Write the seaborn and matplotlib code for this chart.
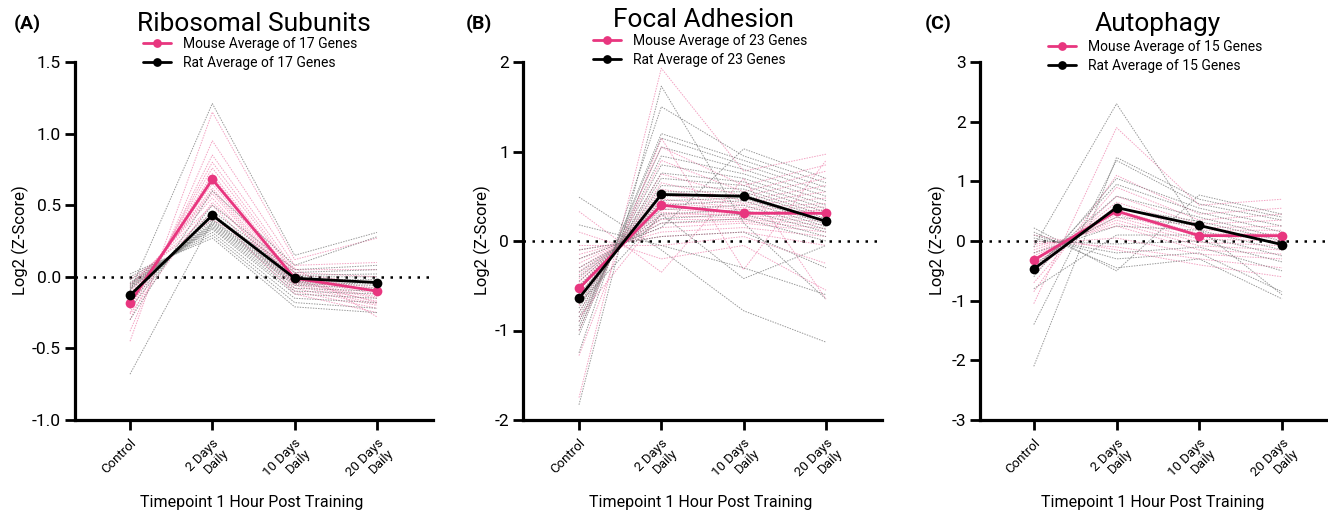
import numpy as np
import pandas as pd
import matplotlib
matplotlib.use("Agg")
import matplotlib.pyplot as plt
import seaborn as sns

sns.set_style("ticks")
plt.rcParams['font.family'] = ['Roboto', 'DejaVu Sans']
plt.rcParams.update({
    "text.color": "black", "axes.labelcolor": "black", "xtick.color": "black",
    "ytick.color": "black", "axes.edgecolor": "black",
})

timepoints = ["Control", "2 Days\nDaily", "10 Days\nDaily", "20 Days\nDaily"]

# ---------------- Panel A: Ribosomal Subunits (17 genes) ----------------
a_mouse_ctrl = [-0.45, -0.38, -0.30, -0.25, -0.22, -0.20, -0.18, -0.16, -0.15, -0.14, -0.12, -0.10, -0.08, -0.06, -0.05, -0.02, -0.26]
a_mouse_d2 = [1.15, 0.95, 0.85, 0.80, 0.76, 0.72, 0.70, 0.68, 0.65, 0.62, 0.60, 0.58, 0.55, 0.50, 0.45, 0.40, 0.52]
a_mouse_d10 = [0.12, 0.08, 0.05, 0.03, 0.02, 0.00, -0.01, -0.02, -0.03, -0.04, -0.05, -0.06, -0.08, -0.10, -0.12, 0.06, -0.02]
a_mouse_d20 = [0.27, 0.10, 0.05, 0.00, -0.05, -0.08, -0.10, -0.12, -0.14, -0.15, -0.17, -0.19, -0.20, -0.22, -0.25, -0.28, -0.18]
a_rat_ctrl = [-0.10, -0.30, -0.22, -0.18, -0.15, -0.13, -0.12, -0.68, -0.09, -0.08, -0.07, -0.06, -0.05, -0.04, -0.02, 0.00, 0.02]
a_rat_d2 = [1.21, 0.60, 0.50, 0.46, 0.44, 0.42, 0.40, 0.39, 0.38, 0.37, 0.36, 0.35, 0.34, 0.33, 0.31, 0.29, 0.27]
a_rat_d10 = [0.15, 0.08, 0.05, 0.03, 0.01, 0.00, -0.02, -0.03, -0.04, -0.05, -0.06, -0.08, -0.10, -0.12, -0.15, -0.18, -0.21]
a_rat_d20 = [0.31, 0.28, 0.08, 0.05, 0.02, 0.00, -0.02, -0.04, -0.05, -0.06, -0.08, -0.10, -0.12, -0.15, -0.18, -0.22, -0.25]
a_mouse_avg = [-0.18, 0.68, -0.01, -0.10]
a_rat_avg = [-0.13, 0.43, -0.01, -0.04]

# ---------------- Panel B: Focal Adhesion (23 genes) ----------------
b_mouse_ctrl = [-1.75, -1.28, -1.00, -0.90, -0.80, -0.72, -0.66, -0.60, -0.55, -0.50, -0.46, -0.42, -0.38, -0.34, -0.30, -0.25, -0.20, -0.15, -0.10, -0.05, 0.10, 0.33, -0.85]
b_mouse_d2 = [1.93, 1.15, 1.05, 0.90, 0.75, 0.65, 0.58, 0.52, 0.47, 0.43, 0.40, 0.36, 0.32, 0.28, 0.24, 0.20, 0.15, 0.10, 0.05, -0.05, -0.20, -0.35, 0.30]
b_mouse_d10 = [0.78, -0.32, 0.62, 0.55, 0.50, 0.45, 0.42, 0.40, 0.37, 0.35, 0.32, 0.30, 0.28, 0.26, 0.24, 0.22, 0.20, 0.15, 0.10, 0.05, -0.05, 0.70, 0.30]
b_mouse_d20 = [0.97, 0.90, 0.85, 0.78, 0.70, 0.62, 0.55, 0.48, 0.42, 0.38, 0.34, 0.30, 0.26, 0.22, 0.18, 0.14, 0.10, 0.05, -0.05, -0.25, -0.55, -0.65, 0.35]
b_rat_ctrl = [-1.83, -1.25, -1.05, -1.00, -0.95, -0.90, -0.85, -0.80, -0.75, -0.70, -0.65, -0.60, -0.55, -0.50, -0.45, -0.40, -0.35, -0.30, -0.20, -0.10, 0.18, 0.49, -0.70]
b_rat_d2 = [1.73, 1.50, 1.20, 1.15, 1.05, 0.95, 0.85, 0.76, 0.70, 0.62, 0.55, 0.50, 0.45, 0.40, 0.35, 0.30, 0.25, 0.20, 0.15, 0.05, -0.05, -0.10, 0.30]
b_rat_d10 = [0.20, 0.95, 0.90, 0.85, 0.80, 0.75, 0.70, 0.66, 0.62, 0.58, 0.55, 0.52, 0.48, 0.45, 0.40, 0.35, 0.30, 0.25, 1.03, 0.10, -0.30, -0.78, -0.42]
b_rat_d20 = [-0.65, 0.65, 0.60, 0.55, 0.50, 0.45, 0.40, 0.36, 0.32, 0.28, 0.25, 0.22, 0.19, 0.16, 0.13, 0.10, 0.05, 0.00, 0.70, -0.30, -0.60, -1.13, -0.05]
b_mouse_avg = [-0.53, 0.40, 0.31, 0.31]
b_rat_avg = [-0.64, 0.52, 0.50, 0.22]

# ---------------- Panel C: Autophagy (15 genes) ----------------
c_mouse_ctrl = [-1.05, -0.85, -0.70, -0.55, -0.45, -0.40, -0.35, -0.30, -0.25, -0.20, -0.15, -0.10, -0.05, 0.00, 0.10]
c_mouse_d2 = [1.90, 1.10, 0.90, 0.75, 0.65, 0.58, 0.52, 0.45, 0.40, 0.35, 0.30, 0.25, 0.05, -0.10, -0.15]
c_mouse_d10 = [0.60, 0.45, 0.35, 0.28, 0.22, 0.18, 0.12, 0.08, 0.03, -0.02, -0.08, -0.15, -0.22, -0.30, -0.40]
c_mouse_d20 = [0.70, 0.55, 0.45, 0.35, 0.25, 0.18, 0.12, 0.05, 0.00, -0.08, -0.15, -0.22, -0.30, -0.45, -0.60]
c_rat_ctrl = [-0.10, -2.10, -1.40, -0.60, -0.50, -0.45, -0.40, -0.30, -0.20, -0.80, 0.00, 0.05, 0.10, 0.15, 0.22]
c_rat_d2 = [2.30, 1.40, 1.35, 1.05, 0.95, 0.75, 0.55, 0.40, 0.25, 0.10, -0.05, -0.20, -0.30, -0.45, -0.50]
c_rat_d10 = [0.20, 0.70, 0.62, 0.55, 0.48, 0.40, 0.33, 0.26, 0.18, 0.10, 0.00, -0.10, -0.20, -0.30, 0.77]
c_rat_d20 = [-0.90, 0.40, 0.35, 0.25, 0.15, 0.05, 0.00, -0.05, -0.15, -0.25, -0.35, -0.50, -0.85, -0.97, 0.45]
c_mouse_avg = [-0.32, 0.50, 0.09, 0.09]
c_rat_avg = [-0.47, 0.56, 0.26, -0.06]

PINK = "#E8367F"
PINK_LIGHT = "#F08BB3"
GREY = "#6E6E6E"


def gene_frame(cols):
    n = len(cols[0])
    rows = []
    for t, vals in enumerate(cols):
        for g in range(n):
            rows.append({"gene": g, "t": t, "value": vals[g]})
    return pd.DataFrame(rows)


def avg_frame(vals):
    return pd.DataFrame({"t": list(range(len(vals))), "value": vals})


panels = [
    dict(letter="(A)", title="Ribosomal Subunits", n=17,
         mouse=[a_mouse_ctrl, a_mouse_d2, a_mouse_d10, a_mouse_d20],
         rat=[a_rat_ctrl, a_rat_d2, a_rat_d10, a_rat_d20],
         mavg=a_mouse_avg, ravg=a_rat_avg,
         ylim=(-1.0, 1.5), yticks=[-1.0, -0.5, 0.0, 0.5, 1.0, 1.5], fmt="{:.1f}",
         box=(75, 433), xlim=(-0.668, 3.68),
         title_xy=(254, 24), letter_xy=(14, 24), ylab_x=20, leg_xy=(143, 37)),
    dict(letter="(B)", title="Focal Adhesion", n=23,
         mouse=[b_mouse_ctrl, b_mouse_d2, b_mouse_d10, b_mouse_d20],
         rat=[b_rat_ctrl, b_rat_d2, b_rat_d10, b_rat_d20],
         mavg=b_mouse_avg, ravg=b_rat_avg,
         ylim=(-2, 2), yticks=[-2, -1, 0, 1, 2], fmt="{:d}",
         box=(523, 882), xlim=(-0.68, 3.68),
         title_xy=(703, 20), letter_xy=(466, 24), ylab_x=482, leg_xy=(593, 34)),
    dict(letter="(C)", title="Autophagy", n=15,
         mouse=[c_mouse_ctrl, c_mouse_d2, c_mouse_d10, c_mouse_d20],
         rat=[c_rat_ctrl, c_rat_d2, c_rat_d10, c_rat_d20],
         mavg=c_mouse_avg, ravg=c_rat_avg,
         ylim=(-3, 3), yticks=[-3, -2, -1, 0, 1, 2, 3], fmt="{:d}",
         box=(980, 1330), xlim=(-0.65, 3.58),
         title_xy=(1158, 24), letter_xy=(925, 24), ylab_x=937, leg_xy=(1048, 40)),
]

W, H = 1328, 513
fig = plt.figure(figsize=(W / 100, H / 100), dpi=100)

top_px, bot_px = 62, 420

for p in panels:
    x0, x1 = p["box"]
    ax = fig.add_axes([x0 / W, 1 - bot_px / H, (x1 - x0) / W, (bot_px - top_px) / H])

    ax.axhline(0, color="black", ls=(0, (1, 2.6)), lw=1.8, zorder=1)

    gm = gene_frame(p["mouse"])
    gr = gene_frame(p["rat"])
    sns.lineplot(data=gm, x="t", y="value", units="gene", estimator=None, ax=ax,
                 color=PINK_LIGHT, lw=0.7, ls=(0, (1.5, 1.2)), alpha=0.8, zorder=2, legend=False)
    sns.lineplot(data=gr, x="t", y="value", units="gene", estimator=None, ax=ax,
                 color=GREY, lw=0.7, ls=(0, (1.5, 1.2)), alpha=0.7, zorder=2, legend=False)

    sns.lineplot(data=avg_frame(p["mavg"]), x="t", y="value", ax=ax, color=PINK, lw=2,
                 marker="o", markersize=7, markeredgewidth=0, zorder=4,
                 label=f"Mouse Average of {p['n']} Genes")
    sns.lineplot(data=avg_frame(p["ravg"]), x="t", y="value", ax=ax, color="black", lw=2,
                 marker="o", markersize=7, markeredgewidth=0, zorder=5,
                 label=f"Rat Average of {p['n']} Genes")

    ax.set_xlim(*p["xlim"])
    ax.set_ylim(*p["ylim"])
    ax.set_yticks(p["yticks"])
    ax.set_yticklabels([p["fmt"].format(v) for v in p["yticks"]], fontsize=12.5)
    ax.set_xticks(range(len(timepoints)))
    ax.set_xticklabels(timepoints, rotation=45, ha="right", va="top",
                       rotation_mode="anchor", fontsize=9.5, multialignment="right",
                       linespacing=1.05)
    ax.tick_params(axis="both", width=2, length=7, direction="out", pad=3, colors="black")
    ax.tick_params(axis="x", pad=5)
    for s in ("left", "bottom"):
        ax.spines[s].set_linewidth(2.3)
        ax.spines[s].set_color("black")
    for s in ("top", "right"):
        ax.spines[s].set_visible(False)
    ax.set_xlabel("")
    ax.set_ylabel("")

    handles, labels = ax.get_legend_handles_labels()
    lx, ly = p["leg_xy"]
    ax.legend(handles, labels, loc="upper left", bbox_to_anchor=(lx / W, 1 - ly / H),
              bbox_transform=fig.transFigure, frameon=False, fontsize=10,
              borderpad=0, borderaxespad=0, handlelength=2.0, handletextpad=0.9,
              labelspacing=0.35, markerscale=0.9, labelcolor="black")

    tx, ty = p["title_xy"]
    fig.text(tx / W, 1 - ty / H, p["title"], fontsize=19, ha="center", va="center", color="black")
    lx2, ly2 = p["letter_xy"]
    fig.text(lx2 / W, 1 - ly2 / H, p["letter"], fontsize=14, fontweight="bold",
             ha="left", va="center", color="black")
    fig.text(p["ylab_x"] / W, 1 - 240 / H, "Log2 (Z-Score)", fontsize=12,
             rotation=90, ha="center", va="center", color="black")
    fig.text(((x0 + x1) / 2 - 2) / W, 1 - 503 / H, "Timepoint 1 Hour Post Training",
             fontsize=11.5, ha="center", va="center", color="black")

fig.savefig("out.png", dpi=100)
